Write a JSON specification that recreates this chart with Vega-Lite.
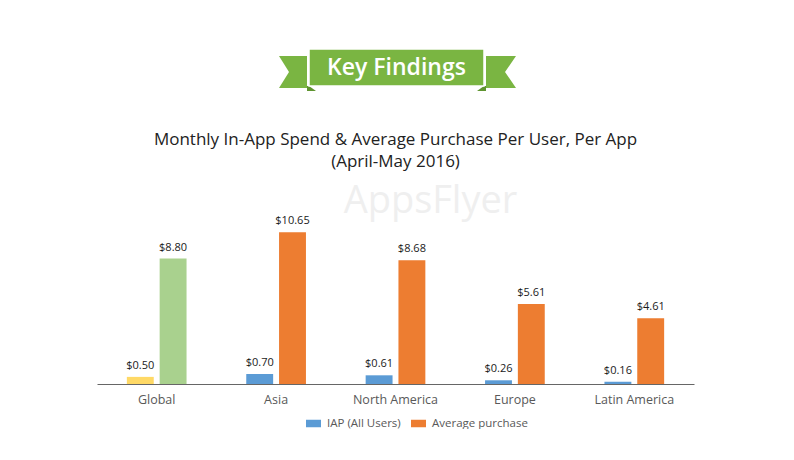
{
  "$schema": "https://vega.github.io/schema/vega-lite/v6.json",
  "background": "white",
  "padding": {"left": 97, "right": 100, "top": 40, "bottom": 0},
  "autosize": {"type": "pad"},
  "config": {"view": {"stroke": null}, "font": "Open Sans"},
  "spacing": 31,
  "center": true,
  "vconcat": [
    {
      "width": 255,
      "height": 60,
      "data": {"values": [
        {"part": "main", "x": 309, "x2": 484, "y": 49, "y2": 86},
        {"part": "ltail", "y": 56, "x": 279, "x2": 307},
        {"part": "ltail", "y": 72, "x": 289, "x2": 307},
        {"part": "ltail", "y": 88, "x": 279, "x2": 307},
        {"part": "rtail", "y": 56, "x": 516, "x2": 486},
        {"part": "rtail", "y": 72, "x": 505, "x2": 486},
        {"part": "rtail", "y": 88, "x": 516, "x2": 486},
        {"part": "lfold", "y": 86, "x": 307, "x2": 309},
        {"part": "lfold", "y": 91, "x": 307, "x2": 316},
        {"part": "rfold", "y": 86, "x": 484, "x2": 486},
        {"part": "rfold", "y": 91, "x": 477, "x2": 486},
        {"part": "label", "x": 396.5, "y": 67.5, "text": "Key Findings"}
      ]},
      "encoding": {
        "x": {"field": "x", "type": "quantitative", "scale": {"domain": [268, 523], "nice": false, "zero": false}, "axis": null},
        "y": {"field": "y", "type": "quantitative", "scale": {"domain": [40, 100], "nice": false, "zero": false, "reverse": true}, "axis": null}
      },
      "layer": [
        {
          "transform": [{"filter": "datum.part === 'ltail' || datum.part === 'rtail'"}],
          "mark": {"type": "area", "orient": "horizontal", "color": "#7ab542", "opacity": 1},
          "encoding": {"x2": {"field": "x2"}, "detail": {"field": "part"}}
        },
        {
          "transform": [{"filter": "datum.part === 'lfold' || datum.part === 'rfold'"}],
          "mark": {"type": "area", "orient": "horizontal", "color": "#5f9430", "opacity": 1},
          "encoding": {"x2": {"field": "x2"}, "detail": {"field": "part"}}
        },
        {
          "transform": [{"filter": "datum.part === 'main'"}],
          "mark": {"type": "rect", "color": "#7ab542", "stroke": "white", "strokeWidth": 1.5},
          "encoding": {"x2": {"field": "x2"}, "y2": {"field": "y2"}}
        },
        {
          "transform": [{"filter": "datum.part === 'label'"}],
          "mark": {"type": "text", "color": "white", "fontSize": 23, "fontWeight": 600, "baseline": "middle", "align": "center", "font": "Open Sans"},
          "encoding": {"text": {"field": "text"}}
        }
      ]
    },
    {
      "width": 597,
      "height": 171,
      "title": {
        "text": ["Monthly In-App Spend & Average Purchase Per User, Per App", "(April-May 2016)"],
        "fontSize": 17,
        "font": "Open Sans",
        "fontWeight": "normal",
        "color": "#222222",
        "lineHeight": 22,
        "offset": 12,
        "anchor": "middle"
      },
      "data": {"values": [
        {"region": "Global", "series": "IAP (All Users)", "value": 0.50},
        {"region": "Global", "series": "Average purchase", "value": 8.80},
        {"region": "Asia", "series": "IAP (All Users)", "value": 0.70},
        {"region": "Asia", "series": "Average purchase", "value": 10.65},
        {"region": "North America", "series": "IAP (All Users)", "value": 0.61},
        {"region": "North America", "series": "Average purchase", "value": 8.68},
        {"region": "Europe", "series": "IAP (All Users)", "value": 0.26},
        {"region": "Europe", "series": "Average purchase", "value": 5.61},
        {"region": "Latin America", "series": "IAP (All Users)", "value": 0.16},
        {"region": "Latin America", "series": "Average purchase", "value": 4.61}
      ]},
      "encoding": {
        "x": {
          "field": "region", "type": "nominal",
          "sort": ["Global", "Asia", "North America", "Europe", "Latin America"],
          "scale": {"paddingInner": 0.5, "paddingOuter": 0.25},
          "axis": {"title": null, "labelAngle": 0, "ticks": false, "labelPadding": 9, "labelFontSize": 12.5, "labelColor": "#595959", "labelFont": "Open Sans", "domainColor": "#666666", "domainWidth": 1}
        }
      },
      "layer": [
        {
          "data": {"values": [{"region": "North America", "value": 12, "text": "AppsFlyer"}]},
          "mark": {"type": "text", "fontSize": 38, "color": "#efefef", "baseline": "alphabetic", "align": "center", "dx": 35, "font": "Open Sans"},
          "encoding": {
            "y": {"field": "value", "type": "quantitative", "scale": {"domain": [0, 12], "nice": false}, "axis": null},
            "text": {"field": "text"}
          }
        },
        {
          "mark": {"type": "bar"},
          "encoding": {
            "xOffset": {"field": "series", "type": "nominal", "sort": ["IAP (All Users)", "Average purchase"], "scale": {"paddingInner": 0.18, "paddingOuter": 0}},
            "y": {"field": "value", "type": "quantitative", "scale": {"domain": [0, 12], "nice": false}, "axis": null},
            "color": {
              "field": "series", "type": "nominal",
              "sort": ["IAP (All Users)", "Average purchase"],
              "scale": {"domain": ["IAP (All Users)", "Average purchase"], "range": ["#5b9bd5", "#ed7d31"]},
              "condition": [
                {"test": "datum.region === 'Global' && datum.series === 'IAP (All Users)'", "value": "#ffd966"},
                {"test": "datum.region === 'Global' && datum.series === 'Average purchase'", "value": "#a9d18e"}
              ],
              "legend": {
                "title": null, "orient": "none", "direction": "horizontal",
                "legendX": 209, "legendY": 376,
                "symbolType": "M-1,-0.5L1,-0.5L1,0.5L-1,0.5Z", "symbolSize": 225,
                "symbolStrokeWidth": 0, "labelFontSize": 11.5, "labelColor": "#595959",
                "labelFont": "Open Sans", "labelOffset": 6, "columnPadding": 10
              }
            }
          }
        },
        {
          "mark": {"type": "text", "dy": -8, "baseline": "alphabetic", "fontSize": 11, "color": "#1a1a1a", "font": "Open Sans"},
          "encoding": {
            "xOffset": {"field": "series", "type": "nominal", "sort": ["IAP (All Users)", "Average purchase"]},
            "y": {"field": "value", "type": "quantitative"},
            "text": {"field": "value", "type": "quantitative", "format": "$.2f"}
          }
        }
      ]
    }
  ]
}
